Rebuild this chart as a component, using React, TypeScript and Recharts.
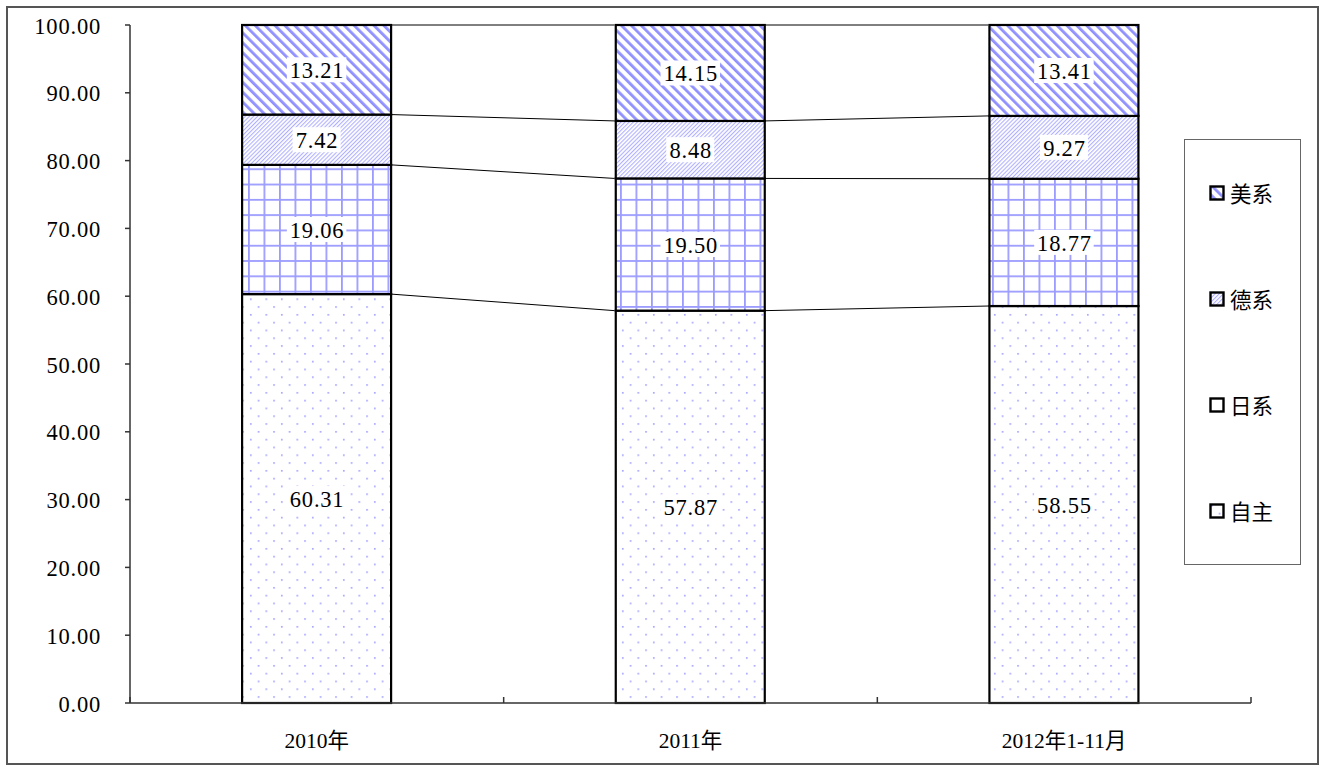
import React from 'react';
import { BarChart, Bar, XAxis, YAxis, LabelList, Legend } from 'recharts';

const categories = ['2010年', '2011年', '2012年1-11月'];
const ziZhu = [60.31, 57.87, 58.55];
const riXi = [19.06, 19.5, 18.77];
const deXi = [7.42, 8.48, 9.27];
const meiXi = [13.21, 14.15, 13.41];
const yTicks = [0, 10, 20, 30, 40, 50, 60, 70, 80, 90, 100];

const seriesKeys = ['ziZhu', 'riXi', 'deXi', 'meiXi'];
const seriesNames = ['自主', '日系', '德系', '美系'];
const seriesFills = ['url(#pDots)', 'url(#pGrid)', 'url(#pLightUp)', 'url(#pWideDown)'];

const data = categories.map((c, i) => ({
  category: c,
  ziZhu: ziZhu[i],
  riXi: riXi[i],
  deXi: deXi[i],
  meiXi: meiXi[i],
}));

const NUM_FONT = '"Liberation Serif", "Noto Sans CJK SC", serif';
const CJK_FONT = '"Noto Sans CJK SC", "Liberation Serif", sans-serif';
const PLOT_LEFT = 130;
const PLOT_RIGHT_MARGIN = 74;
const CHART_W = 1325;
const CHART_H = 771;

const cumulative = (row: any, upTo: number) => {
  let s = 0;
  for (let k = 0; k <= upTo; k++) s += row[seriesKeys[k]];
  return s;
};

const makeShape = (si: number) => (props: any) => {
  const { x, y, width, height, index, payload } = props;
  const items: any[] = [
    <rect key="r" x={x} y={y} width={width} height={height} fill={seriesFills[si]} stroke="#000" strokeWidth={2.2} />,
  ];
  if (index < data.length - 1 && height > 0) {
    const seg = payload[seriesKeys[si]];
    const k = height / seg;
    const cumThis = cumulative(data[index], si);
    const cumNext = cumulative(data[index + 1], si);
    const x1 = x + width;
    const x2 = x + width * 2.5;
    const y2 = y + (cumThis - cumNext) * k;
    items.push(<line key="l" x1={x1} y1={y} x2={x2} y2={y2} stroke="#000" strokeWidth={1} />);
  }
  return <g>{items}</g>;
};

const renderLabel = (props: any) => {
  const { x, y, width, height, value } = props;
  const cx = x + width / 2;
  const cy = y + height / 2;
  const text = Number(value).toFixed(2);
  const w = text.length * 11.5 + 2;
  return (
    <g>
      <rect x={cx - w / 2} y={cy - 12.5} width={w} height={25} fill="#fff" />
      <text
        x={cx + 0.5}
        y={cy + 1}
        textAnchor="middle"
        dominantBaseline="central"
        fill="#000"
        style={{ fontFamily: NUM_FONT, fontSize: 22.5, letterSpacing: 0.8 }}
      >
        {text}
      </text>
    </g>
  );
};

const YTick = (props: any) => {
  const { x, y, payload } = props;
  return (
    <text
      x={x}
      y={y + 1}
      textAnchor="end"
      dominantBaseline="central"
      fill="#000"
      style={{ fontFamily: NUM_FONT, fontSize: 22.5, letterSpacing: 0.8 }}
    >
      {Number(payload.value).toFixed(2)}
    </text>
  );
};

const XTick = (props: any) => {
  const { x, y, payload, index } = props;
  const plotW = CHART_W - PLOT_LEFT - PLOT_RIGHT_MARGIN;
  const step = plotW / categories.length;
  return (
    <g>
      {index === 0 && (
        <line x1={x - step / 2} y1={y} x2={x - step / 2} y2={y - 6} stroke="#333" strokeWidth={1.5} />
      )}
      <line x1={x + step / 2} y1={y} x2={x + step / 2} y2={y - 6} stroke="#333" strokeWidth={1.5} />
      <text
        x={x}
        y={y + 38}
        textAnchor="middle"
        dominantBaseline="central"
        fill="#000"
        style={{ fontFamily: NUM_FONT, fontSize: 21.5 }}
      >
        {payload.value}
      </text>
    </g>
  );
};

const LegendContent = () => {
  const order = [3, 2, 1, 0];
  return (
    <div
      style={{
        width: 117,
        height: 426,
        boxSizing: 'border-box',
        border: '1.5px solid #666',
        background: '#fff',
        display: 'flex',
        flexDirection: 'column',
        justifyContent: 'space-around',
      }}
    >
      {order.map((si) => (
        <div key={si} style={{ display: 'flex', alignItems: 'center', paddingLeft: 24 }}>
          <svg width={16} height={16} style={{ display: 'block' }}>
            <rect x={1.5} y={1.5} width={13} height={13} fill={seriesFills[si]} stroke="#000" strokeWidth={2.4} />
          </svg>
          <span
            style={{
              marginLeft: 5,
              fontFamily: CJK_FONT,
              fontSize: 21.5,
              color: '#000',
              lineHeight: '24px',
            }}
          >
            {seriesNames[si]}
          </span>
        </div>
      ))}
    </div>
  );
};

export default function App() {
  return (
    <div style={{ position: 'absolute', left: 0, top: 0, width: CHART_W, height: CHART_H, background: '#fff' }}>
      <div
        style={{
          position: 'absolute',
          left: 6,
          top: 6,
          width: 1313,
          height: 759,
          boxSizing: 'border-box',
          border: '2px solid #555',
        }}
      />
      <div style={{ position: 'absolute', left: 0, top: 0 }}>
        <BarChart
          width={CHART_W}
          height={CHART_H}
          data={data}
          margin={{ top: 25, right: PLOT_RIGHT_MARGIN, bottom: 38, left: 10 }}
          barCategoryGap="30%"
        >
          <defs>
            <pattern id="pWideDown" patternUnits="userSpaceOnUse" width={7} height={7} patternTransform="rotate(-45)">
              <rect x={0} y={0} width={7} height={7} fill="#fff" />
              <rect x={0} y={0} width={2.8} height={7} fill="#9090ff" />
            </pattern>
            <pattern id="pLightUp" patternUnits="userSpaceOnUse" width={2.9} height={4} patternTransform="rotate(45)">
              <rect x={0} y={0} width={2.9} height={4} fill="#fff" />
              <rect x={0} y={0} width={1.1} height={4} fill="#b0b0ff" />
            </pattern>
            <pattern id="pGrid" patternUnits="userSpaceOnUse" width={15.5} height={15.3}>
              <rect x={0} y={0} width={15.5} height={15.3} fill="#fff" />
              <rect x={0} y={0} width={1.8} height={15.3} fill="#9c9cff" />
              <rect x={0} y={0} width={15.5} height={1.8} fill="#9c9cff" />
            </pattern>
            <pattern id="pDots" patternUnits="userSpaceOnUse" width={15.5} height={15.6}>
              <rect x={0} y={0} width={15.5} height={15.6} fill="#fff" />
              <rect x={2} y={2} width={1.6} height={1.6} fill="#9c9cff" />
              <rect x={9.75} y={9.8} width={1.6} height={1.6} fill="#9c9cff" />
            </pattern>
          </defs>
          <XAxis
            dataKey="category"
            axisLine={{ stroke: '#333', strokeWidth: 1.5 }}
            tickLine={false}
            tickSize={0}
            tickMargin={0}
            height={30}
            interval={0}
            tick={<XTick />}
          />
          <YAxis
            domain={[0, 100]}
            ticks={yTicks}
            interval={0}
            width={120}
            axisLine={{ stroke: '#333', strokeWidth: 1.5 }}
            tickLine={{ stroke: '#333', strokeWidth: 1.5 }}
            tickSize={5}
            tickMargin={24}
            tick={<YTick />}
          />
          <Legend
            layout="vertical"
            align="center"
            verticalAlign="middle"
            wrapperStyle={{ left: 1184, top: 139, width: 117, height: 426 }}
            content={<LegendContent />}
          />
          {seriesKeys.map((key, si) => (
            <Bar
              key={key}
              dataKey={key}
              name={seriesNames[si]}
              stackId="a"
              fill={seriesFills[si]}
              isAnimationActive={false}
              shape={makeShape(si)}
            >
              <LabelList dataKey={key} content={renderLabel} />
            </Bar>
          ))}
        </BarChart>
      </div>
    </div>
  );
}
